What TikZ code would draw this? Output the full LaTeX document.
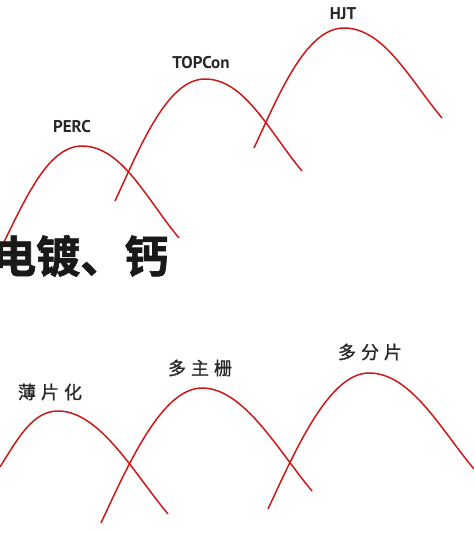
\documentclass[tikz,border=0pt]{standalone}
\usepackage{fontspec}
\setmainfont{PT Sans}
\newfontfamily\cjkb[FakeBold=1.5]{Noto Sans CJK SC Bold}
\newfontfamily\cjk[FakeBold=1]{Noto Sans CJK SC}
\definecolor{curvered}{RGB}{204,24,24}
\definecolor{labgray}{RGB}{40,40,40}
\begin{document}
\begin{tikzpicture}[x=1pt,y=-1pt,
  hump/.style={draw=curvered,line width=1.5pt},
  techlab/.style={font=\fontsize{17}{17}\selectfont\bfseries,text=labgray,inner sep=0pt},
  cnlab/.style={font=\cjk\fontsize{18}{18}\selectfont,text=labgray,inner sep=0pt},
  bigcn/.style={font=\cjkb\fontsize{44}{44}\selectfont,text=black!90,inner sep=0pt,anchor=west}]
\useasboundingbox (0,0) rectangle (474,533);
% top curves
\coordinate (s1) at (-2,254); \coordinate (p1) at (82,146); \coordinate (e1) at (179,238);
\coordinate (s2) at (115,201); \coordinate (p2) at (205,79); \coordinate (e2) at (302,171);
\coordinate (s3) at (254,148); \coordinate (p3) at (344,28); \coordinate (e3) at (442,118);
\draw[hump] (s1) to[out=63,in=180,out distance=55pt,in distance=36pt] (p1)
  to[out=0,in=130,out distance=40pt,in distance=50pt] (e1);
\draw[hump] (s2) to[out=65,in=180,out distance=60pt,in distance=38pt] (p2)
  to[out=0,in=130,out distance=40pt,in distance=50pt] (e2);
\draw[hump] (s3) to[out=65,in=180,out distance=60pt,in distance=38pt] (p3)
  to[out=0,in=130,out distance=40pt,in distance=50pt] (e3);
\node[techlab] (perc) at (72,127) {PERC};
\node[techlab] (topcon) at (201,63) {TOPCon};
\node[techlab] (hjt) at (343,14) {HJT};
% big text
\node[bigcn] (big) at (-8,256) {电镀、钙};
% bottom curves
\coordinate (s4) at (0,467); \coordinate (p4) at (58,411); \coordinate (e4) at (168,514);
\coordinate (s5) at (101,523); \coordinate (p5) at (202,388); \coordinate (e5) at (312,491);
\coordinate (s6) at (268,509); \coordinate (p6) at (369,373); \coordinate (e6) at (474,469);
\draw[hump] (s4) to[out=58,in=180,out distance=35pt,in distance=25pt] (p4)
  to[out=0,in=130,out distance=42pt,in distance=52pt] (e4);
\draw[hump] (s5) to[out=65,in=180,out distance=65pt,in distance=40pt] (p5)
  to[out=0,in=130,out distance=42pt,in distance=52pt] (e5);
\draw[hump] (s6) to[out=65,in=180,out distance=65pt,in distance=40pt] (p6)
  to[out=0,in=130,out distance=42pt,in distance=52pt] (e6);
\node[cnlab] (thin) at (50,392) {薄\hspace{5pt}片\hspace{5pt}化};
\node[cnlab] (mbb) at (200,368) {多\hspace{5pt}主\hspace{5pt}栅};
\node[cnlab] (split) at (370,352) {多\hspace{5pt}分\hspace{5pt}片};
\end{tikzpicture}
\end{document}
